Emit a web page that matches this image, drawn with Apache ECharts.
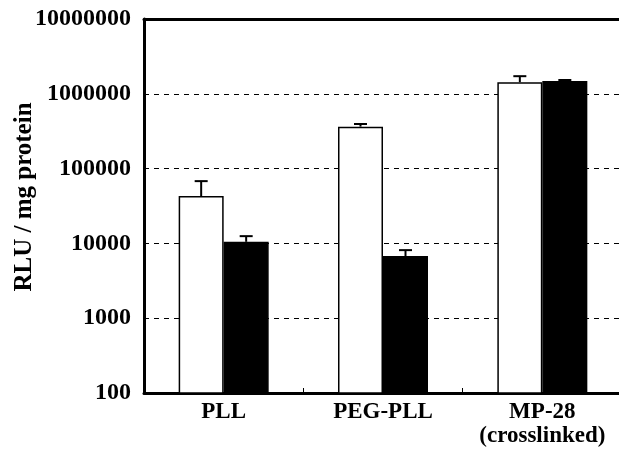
<!DOCTYPE html>
<html>
<head>
<meta charset="utf-8">
<script src="https://cdn.jsdelivr.net/npm/echarts@6/dist/echarts.min.js"></script>
<style>
html,body{margin:0;padding:0;background:#fff;}
#chart{width:619px;height:452px;}
</style>
</head>
<body>
<div id="chart"></div>
<script>
// ---- data ----
const categories = ['PLL', 'PEG-PLL', 'MP-28\n(crosslinked)'];
const whiteValues = [43000, 364000, 1430000];
const whiteSD = [25000, 31000, 290000];
const blackValues = [10500, 6760, 1480000];
const blackSD = [2000, 1370, 50000];
const yTickValues = [100, 1000, 10000, 100000, 1000000, 10000000];
const yTickLabels = ['100', '1000', '10000', '100000', '1000000', '10000000'];
const yAxisTitle = 'RLU / mg protein';

const FONT = '"Liberation Serif", "Times New Roman", serif';
const BAR_W = 45;

function errorSeries(values, sd, offsetSign) {
  return {
    type: 'custom',
    z: 5,
    xAxisIndex: 0,
    data: values.map((v, i) => [i, v, v + sd[i]]),
    renderItem: function (params, api) {
      const c0 = api.coord([api.value(0), api.value(1)]);
      const c1 = api.coord([api.value(0), api.value(2)]);
      const x = c0[0] + offsetSign * BAR_W / 2;
      const cap = 6.5;
      return {
        type: 'group',
        children: [
          { type: 'line', shape: { x1: x, y1: c0[1], x2: x, y2: c1[1] }, style: { stroke: '#000', lineWidth: 2 } },
          { type: 'line', shape: { x1: x - cap, y1: c1[1], x2: x + cap, y2: c1[1] }, style: { stroke: '#000', lineWidth: 2 } }
        ]
      };
    }
  };
}

const chart = echarts.init(document.getElementById('chart'), null, { renderer: 'canvas' });
chart.setOption({
  animation: false,
  backgroundColor: '#fff',
  grid: { left: 144, top: 19, width: 478, height: 374, containLabel: false, outerBoundsMode: 'none' },
  xAxis: [{
    type: 'category',
    data: categories,
    position: 'bottom',
    axisLine: { lineStyle: { color: '#000', width: 3 } },
    axisTick: { show: true, inside: true, length: 5, lineStyle: { color: '#000', width: 1 } },
    axisLabel: { interval: 0, color: '#000', fontFamily: FONT, fontWeight: 'bold', fontSize: 23, margin: 7, lineHeight: 24 },
    splitLine: { show: false }
  }, {
    type: 'category',
    data: categories,
    position: 'top',
    axisLine: { show: true, lineStyle: { color: '#000', width: 3 } },
    axisTick: { show: false },
    axisLabel: { show: false },
    splitLine: { show: false }
  }],
  yAxis: {
    type: 'log',
    logBase: 10,
    min: 100,
    max: 10000000,
    name: yAxisTitle,
    nameLocation: 'middle',
    nameGap: 107,
    nameMoveOverlap: false,
    nameTextStyle: { color: '#000', fontFamily: FONT, fontWeight: 'bold', fontSize: 25, padding: [0, 0, 0, 18] },
    axisLine: { show: true, lineStyle: { color: '#000', width: 3 } },
    axisTick: { show: true, inside: true, length: 3, lineStyle: { color: '#000' } },
    axisLabel: {
      color: '#000', fontFamily: FONT, fontWeight: 'bold', fontSize: 24, margin: 13,
      formatter: function (v) {
        const idx = Math.round(Math.log10(v)) - 2;
        return yTickLabels[idx] !== undefined ? yTickLabels[idx] : '';
      }
    },
    splitLine: { show: true, lineStyle: { color: '#000', width: 1, type: [5, 5] } }
  },
  series: [
    {
      type: 'bar', data: whiteValues, barWidth: BAR_W, barGap: '0%',
      itemStyle: { color: '#fff', borderColor: '#000', borderWidth: 1.5 }
    },
    {
      type: 'bar', data: blackValues, barWidth: BAR_W, barGap: '0%',
      itemStyle: { color: '#000', borderColor: '#000', borderWidth: 1.5 }
    },
    errorSeries(whiteValues, whiteSD, -1),
    errorSeries(blackValues, blackSD, 1)
  ]
});
</script>
</body>
</html>
